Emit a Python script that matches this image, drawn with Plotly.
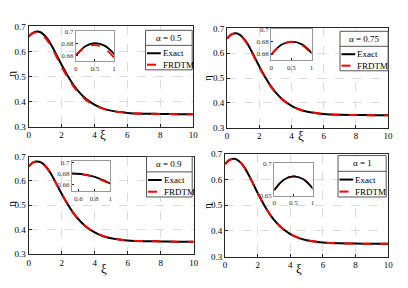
import plotly.graph_objects as go

# figure is placed by the page at an 8 px body margin
OFF = 8
FW, FH = 392, 272

xi = [0, 0.25, 0.5, 0.75, 1, 1.25, 1.5, 1.75, 2, 2.25, 2.5, 2.75, 3, 3.5, 4, 4.5, 5, 5.5, 6, 7, 8, 9, 10]
eta_exact = [0.659, 0.675, 0.680, 0.676, 0.662, 0.640, 0.611, 0.579, 0.547, 0.517, 0.489, 0.464, 0.443,
             0.410, 0.388, 0.373, 0.364, 0.359, 0.355, 0.352, 0.351, 0.350, 0.350]
eta_frdtm_05 = [0.661, 0.673, 0.677, 0.671, 0.656, 0.633, 0.604, 0.572, 0.540, 0.510, 0.483, 0.459, 0.438,
                0.406, 0.385, 0.372, 0.3635, 0.3585, 0.355, 0.352, 0.351, 0.350, 0.350]
eta_frdtm_075 = [0.659, 0.6745, 0.6795, 0.675, 0.660, 0.637, 0.608, 0.576, 0.544, 0.514, 0.487, 0.462, 0.441,
                 0.409, 0.387, 0.373, 0.364, 0.359, 0.355, 0.352, 0.351, 0.350, 0.350]
eta_frdtm_09 = [0.659, 0.675, 0.680, 0.6755, 0.661, 0.639, 0.610, 0.578, 0.546, 0.516, 0.488, 0.463, 0.442,
                0.410, 0.388, 0.373, 0.364, 0.359, 0.355, 0.352, 0.351, 0.350, 0.350]
eta_frdtm_1 = list(eta_exact)

alphas = ["0.5", "0.75", "0.9", "1"]
frdtm = [eta_frdtm_05, eta_frdtm_075, eta_frdtm_09, eta_frdtm_1]
series_names = ["Exact", "FRDTM"]

# screen pixel boxes (left, right, top, bottom)
main_boxes = [(27, 194.5, 22, 126), (229, 393, 24, 127), (27, 195, 157, 258), (227, 393, 154, 261)]
inset_boxes = [(75, 114, 27, 58), (274, 315, 25, 57), (71, 110, 162, 193), (277, 316, 164, 198)]
inset_x = [[0, 1], [0, 1], [0.52, 1], [0, 1]]
inset_xt = [[0, 0.5, 1], [0, 0.5, 1], [0.6, 0.8, 1], [0, 0.5, 1]]
inset_xtt = [["0", "0.5", "1"], ["0", "0.5", "1"], ["0.6", "0.8", "1"], ["0", "0.5", "1"]]
inset_y = [[0.65, 0.70], [0.65, 0.70], [0.648, 0.702], [0.65, 0.70]]
inset_yt = [[0.66, 0.68, 0.7], [0.66, 0.68, 0.7], [0.66, 0.68, 0.7], [0.65, 0.7]]
inset_ytt = [["0.66", "0.68", "0.7"], ["0.66", "0.68", "0.7"], ["0.66", "0.68", "0.7"], ["0.65", "0.7"]]
legend_boxes = [(146, 193.5, 26, 67), (344, 393, 27, 68), (147, 193.5, 157, 199), (342, 391, 156, 199)]
xi_label = [(103, 134), (304, 135), (104, 273), (302, 273)]
eta_label = [(9, 71), (208, 75), (9, 206), (208, 208)]

FONT = "Liberation Serif"
AX = "#262626"


def fx(sx):
    return (sx - OFF) / FW


def fy(sy):
    return 1 - (sy - OFF) / FH


def txt(text, sx, sy, size, xanchor="center", angle=0):
    return dict(text=text, x=fx(sx), y=fy(sy), xref="paper", yref="paper",
                xanchor=xanchor, yanchor="middle", showarrow=False, textangle=angle,
                font=dict(family=FONT, size=size, color="black"))


fig = go.Figure()
layout = dict(
    width=FW, height=FH, margin=dict(l=0, r=0, t=0, b=0),
    paper_bgcolor="white", plot_bgcolor="white",
    font=dict(family=FONT, size=9, color="black"),
    showlegend=False,
    annotations=[], shapes=[],
)

for i in range(4):
    n_main = 2 * i + 1
    n_ins = 2 * i + 2
    xa = "x" if n_main == 1 else f"x{n_main}"
    ya = "y" if n_main == 1 else f"y{n_main}"
    xi_ = f"x{n_ins}"
    yi_ = f"y{n_ins}"

    fig.add_trace(go.Scatter(x=xi, y=eta_exact, mode="lines", name=series_names[0],
                             line=dict(color="black", width=2, shape="spline"),
                             xaxis=xa, yaxis=ya))
    fig.add_trace(go.Scatter(x=xi, y=frdtm[i], mode="lines", name=series_names[1],
                             line=dict(color="#ff0000", width=2, dash="dash", shape="spline"),
                             xaxis=xa, yaxis=ya))
    if i == 3:
        order = [(frdtm[i], "#ff0000", "dash"), (eta_exact, "black", "solid")]
    else:
        order = [(eta_exact, "black", "solid"), (frdtm[i], "#ff0000", "dash")]
    for ys, col, dsh in order:
        fig.add_trace(go.Scatter(x=xi, y=ys, mode="lines",
                                 line=dict(color=col, width=1.8, dash=dsh, shape="spline"),
                                 xaxis=xi_, yaxis=yi_))

    l, r, t, b = main_boxes[i]
    key_x = "xaxis" if n_main == 1 else f"xaxis{n_main}"
    key_y = "yaxis" if n_main == 1 else f"yaxis{n_main}"
    layout[key_x] = dict(domain=[fx(l), fx(r)], anchor=ya, range=[0, 10],
                         tickvals=[0, 2, 4, 6, 8, 10], ticks="inside", ticklen=3, tickcolor=AX,
                         showline=True, linecolor=AX, linewidth=1, mirror=True,
                         showgrid=True, gridcolor="#dcdcdc", griddash="dash", gridwidth=1,
                         zeroline=False, tickfont=dict(family=FONT, size=9, color="black"))
    layout[key_y] = dict(domain=[fy(b), fy(t)], anchor=xa, range=[0.3, 0.7],
                         tickvals=[0.3, 0.4, 0.5, 0.6, 0.7], ticktext=["0.3", "0.4", "0.5", "0.6", "0.7"],
                         ticks="inside", ticklen=3, tickcolor=AX,
                         showline=True, linecolor=AX, linewidth=1, mirror=True,
                         showgrid=True, gridcolor="#dcdcdc", griddash="dash", gridwidth=1,
                         zeroline=False, tickfont=dict(family=FONT, size=9, color="black"))
    l, r, t, b = inset_boxes[i]
    layout[f"xaxis{n_ins}"] = dict(domain=[fx(l), fx(r)], anchor=yi_, range=inset_x[i],
                                   tickvals=inset_xt[i], ticktext=inset_xtt[i],
                                   ticks="inside", ticklen=2, tickcolor=AX,
                                   showline=True, linecolor="#999999", linewidth=1, mirror=True,
                                   showgrid=False, zeroline=False,
                                   tickfont=dict(family=FONT, size=7, color="#333333"))
    layout[f"yaxis{n_ins}"] = dict(domain=[fy(b), fy(t)], anchor=xi_, range=inset_y[i],
                                   tickvals=inset_yt[i], ticktext=inset_ytt[i],
                                   ticks="inside", ticklen=2, tickcolor=AX,
                                   showline=True, linecolor="#999999", linewidth=1, mirror=True,
                                   showgrid=False, zeroline=False,
                                   tickfont=dict(family=FONT, size=7, color="#333333"))

    # legend box drawn as shapes + text
    l, r, t, b = legend_boxes[i]
    h = b - t
    layout["shapes"].append(dict(type="rect", xref="paper", yref="paper",
                                 x0=fx(l), x1=fx(r), y0=fy(b), y1=fy(t),
                                 line=dict(color="#555555", width=1), fillcolor="white"))
    layout["shapes"].append(dict(type="line", xref="paper", yref="paper",
                                 x0=fx(l), x1=fx(r), y0=fy(t + 0.38 * h), y1=fy(t + 0.38 * h),
                                 line=dict(color="#555555", width=1)))
    layout["annotations"].append(txt("\u03b1 = " + alphas[i], (l + r) / 2, t + 0.19 * h, 9))
    for k, (col, dsh) in enumerate([("black", "solid"), ("#ff0000", "dash")]):
        yy = t + (0.58 + 0.29 * k) * h
        layout["shapes"].append(dict(type="line", xref="paper", yref="paper",
                                     x0=fx(l + 1.5), x1=fx(l + 15.5), y0=fy(yy), y1=fy(yy),
                                     line=dict(color=col, width=2, dash=dsh)))
        layout["annotations"].append(txt(series_names[k], l + 15.5, yy, 9, xanchor="left"))

    xx, yy = xi_label[i]
    layout["annotations"].append(txt("\u03be", xx, yy, 13))
    xx, yy = eta_label[i]
    layout["annotations"].append(txt("\u03b7", xx, yy, 11, angle=-90))

fig.update_layout(**layout)
fig.write_html("out.html")
